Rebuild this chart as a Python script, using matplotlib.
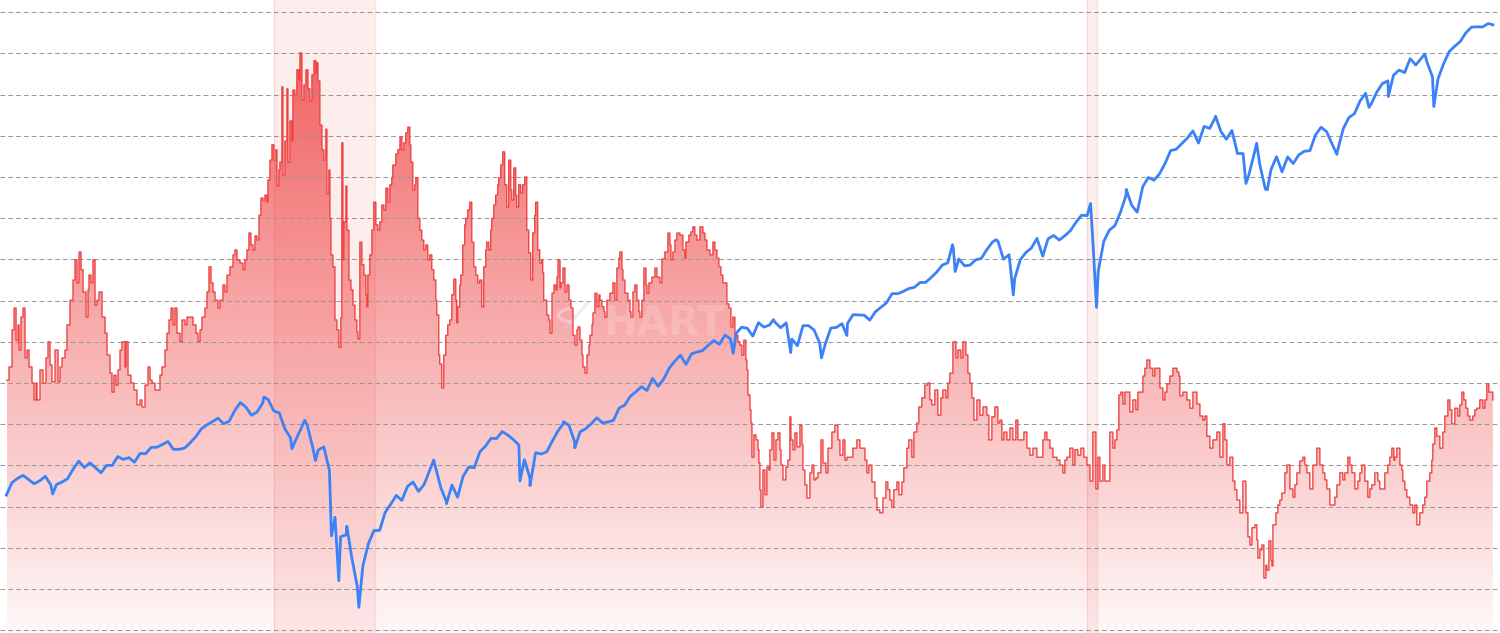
import numpy as np
import matplotlib
matplotlib.use("Agg")
import matplotlib.pyplot as plt
from matplotlib.patches import Circle

# ---------------- data ----------------
# S&P 500 month-end closes, starting Nov 2003
spx_first_month = (2003, 11)
spx_close = [
    1058.20, 1111.92,
    1131.13, 1144.94, 1126.21, 1107.30, 1120.68, 1140.84, 1101.72, 1104.24, 1114.58, 1130.20, 1173.82, 1211.92,
    1181.27, 1203.60, 1180.59, 1156.85, 1191.50, 1191.33, 1234.18, 1220.33, 1228.81, 1207.01, 1249.48, 1248.29,
    1280.08, 1280.66, 1294.83, 1310.61, 1270.09, 1270.20, 1276.66, 1303.82, 1335.85, 1377.94, 1400.63, 1418.30,
    1438.24, 1406.82, 1420.86, 1482.37, 1530.62, 1503.35, 1455.27, 1473.99, 1526.75, 1549.38, 1481.14, 1468.36,
    1378.55, 1330.63, 1322.70, 1385.59, 1400.38, 1280.00, 1267.38, 1282.83, 1166.36, 968.75, 896.24, 903.25,
    825.88, 735.09, 797.87, 872.81, 919.14, 919.32, 987.48, 1020.62, 1057.08, 1036.19, 1095.63, 1115.10,
    1073.87, 1104.49, 1169.43, 1186.69, 1089.41, 1030.71, 1101.60, 1049.33, 1141.20, 1183.26, 1180.55, 1257.64,
    1286.12, 1327.22, 1325.83, 1363.61, 1345.20, 1320.64, 1292.28, 1218.89, 1131.42, 1253.30, 1246.96, 1257.60,
    1312.41, 1365.68, 1408.47, 1397.91, 1310.33, 1362.16, 1379.32, 1406.58, 1440.67, 1412.16, 1416.18, 1426.19,
    1498.11, 1514.68, 1569.19, 1597.57, 1630.74, 1606.28, 1685.73, 1632.97, 1681.55, 1756.54, 1805.81, 1848.36,
    1782.59, 1859.45, 1872.34, 1883.95, 1923.57, 1960.23, 1930.67, 2003.37, 1972.29, 2018.05, 2067.56, 2058.90,
    1994.99, 2104.50, 2067.89, 2085.51, 2107.39, 2063.11, 2103.84, 1972.18, 1920.03, 2079.36, 2080.41, 2043.94,
    1940.24, 1932.23, 2059.74, 2065.30, 2096.95, 2098.86, 2173.60, 2170.95, 2168.27, 2126.15, 2198.81, 2238.83,
    2278.87, 2363.64, 2362.72, 2384.20, 2411.80, 2423.41, 2470.30, 2471.65, 2519.36, 2575.26, 2647.58, 2673.61,
    2823.81, 2713.83, 2640.87, 2648.05, 2705.27, 2718.37, 2816.29, 2901.52, 2913.98, 2711.74, 2760.17, 2506.85,
    2704.10, 2784.49, 2834.40, 2945.83, 2752.06, 2941.76, 2980.38, 2926.46, 2976.74, 3037.56, 3140.98, 3230.78,
    3225.52, 2954.22, 2584.59, 2912.43, 3044.31, 3100.29, 3271.12, 3500.31, 3363.00, 3269.96, 3621.63, 3756.07,
    3714.24, 3811.15, 3972.89, 4181.17, 4204.11, 4297.50, 4395.26, 4522.68, 4307.54, 4605.38, 4567.00, 4766.18,
    4515.55, 4373.94, 4530.41, 4131.93, 4132.15, 3785.38, 4130.29, 3955.00, 3585.62, 3871.98, 4080.11, 3839.50,
    4076.60, 3970.15, 4109.31, 4169.48, 4179.83, 4450.38, 4588.96, 4507.66, 4288.05, 4193.80, 4567.80, 4769.83,
    4845.65, 5096.27, 5254.35, 5035.69, 5277.51, 5460.48, 5522.30, 5648.40, 5762.48, 5705.45, 6032.38, 5881.63,
    6040.53, 5954.50, 5611.85, 5569.06, 5911.69, 6204.95, 6339.39, 6460.26, 6688.46, 6840.20, 6849.09, 6845.50,
    6939.03,
]
# intra-month highs / lows (decimal year, level)
spx_extra_t = [2004.61, 2007.77, 2008.19, 2008.38, 2008.54, 2008.78, 2008.89, 2009.01, 2009.19,
               2010.31, 2010.50, 2011.60, 2011.75, 2012.25, 2012.42, 2014.79, 2015.39,
               2015.65, 2016.11, 2016.49, 2018.07, 2018.11, 2018.72, 2018.98, 2019.42,
               2020.135, 2020.225, 2020.67, 2022.005, 2022.46, 2022.62, 2022.78, 2023.82,
               2024.30, 2024.59, 2025.135, 2025.27, 2026.153]
spx_extra_v = [1063.23, 1565.15, 1273.37, 1426.63, 1214.91, 899.22, 752.44, 934.70, 676.53,
               1217.28, 1022.58, 1119.46, 1099.23, 1419.04, 1278.04, 1862.49, 2130.82,
               1867.61, 1829.08, 2000.54, 2872.87, 2581.00, 2930.75, 2351.10, 2744.45,
               3386.15, 2237.40, 3580.84, 4796.56, 3666.77, 4305.20, 3577.03, 4117.37,
               4967.23, 5186.33, 6144.15, 4982.77, 6905.00]

# red area series (decimal year, level)
red_t = [
 2003.927, 2003.957, 2004.002, 2004.032, 2004.062, 2004.092, 2004.107, 2004.136, 2004.166, 2004.196,
 2004.226, 2004.256, 2004.301, 2004.331, 2004.361, 2004.376, 2004.420, 2004.465, 2004.510, 2004.540,
 2004.570, 2004.600, 2004.645, 2004.690, 2004.720, 2004.750, 2004.794, 2004.824, 2004.869, 2004.914,
 2004.944, 2004.974, 2005.004, 2005.034, 2005.064, 2005.109, 2005.139, 2005.153, 2005.183, 2005.213,
 2005.243, 2005.273, 2005.303, 2005.348, 2005.393, 2005.423, 2005.467, 2005.497, 2005.527, 2005.557,
 2005.587, 2005.617, 2005.647, 2005.692, 2005.707, 2005.737, 2005.781, 2005.826, 2005.871, 2005.916,
 2005.946, 2005.991, 2006.036, 2006.066, 2006.096, 2006.140, 2006.185, 2006.215, 2006.245, 2006.290,
 2006.320, 2006.350, 2006.380, 2006.410, 2006.439, 2006.469, 2006.514, 2006.544, 2006.589, 2006.619,
 2006.664, 2006.709, 2006.754, 2006.784, 2006.814, 2006.843, 2006.888, 2006.918, 2006.948, 2006.978,
 2007.008, 2007.038, 2007.083, 2007.113, 2007.157, 2007.187, 2007.217, 2007.262, 2007.307, 2007.337,
 2007.367, 2007.412, 2007.457, 2007.486, 2007.516, 2007.546,
 2007.576, 2007.606, 2007.636, 2007.666, 2007.696, 2007.725, 2007.755, 2007.785, 2007.815, 2007.830,
 2007.860, 2007.890, 2007.920, 2007.950, 2007.965, 2007.994, 2008.009, 2008.039, 2008.054, 2008.084,
 2008.114, 2008.129, 2008.159, 2008.189, 2008.204, 2008.233, 2008.263, 2008.293, 2008.309, 2008.338,
 2008.368, 2008.398, 2008.428, 2008.458, 2008.488, 2008.518, 2008.548, 2008.563, 2008.578, 2008.607,
 2008.637, 2008.667, 2008.697, 2008.712, 2008.742, 2008.757, 2008.772, 2008.802, 2008.832, 2008.861,
 2008.891, 2008.921, 2008.936, 2008.951, 2008.966, 2008.996, 2009.011, 2009.041, 2009.071, 2009.101,
 2009.131, 2009.160, 2009.175, 2009.205, 2009.235, 2009.265, 2009.295, 2009.310, 2009.325, 2009.355,
 2009.385, 2009.414, 2009.444, 2009.474, 2009.504, 2009.534, 2009.564, 2009.594, 2009.624, 2009.654,
 2009.683, 2009.698, 2009.743, 2009.773, 2009.805, 2009.833, 2009.863, 2009.892, 2009.922, 2009.952,
 2009.967, 2009.997, 2010.027, 2010.042, 2010.072, 2010.102, 2010.131, 2010.161, 2010.191, 2010.221,
 2010.251, 2010.281, 2010.311, 2010.341, 2010.356, 2010.385, 2010.400, 2010.430, 2010.460, 2010.490,
 2010.520, 2010.550, 2010.580, 2010.610, 2010.640, 2010.654, 2010.669, 2010.699, 2010.714, 2010.744,
 2010.774, 2010.789, 2010.819, 2010.849, 2010.879, 2010.909, 2010.939, 2010.968, 2010.998, 2011.028,
 2011.058, 2011.088, 2011.103, 2011.133, 2011.163, 2011.178, 2011.208, 2011.237, 2011.267, 2011.282,
 2011.312, 2011.342, 2011.372, 2011.402, 2011.432, 2011.462, 2011.477, 2011.507, 2011.536, 2011.551,
 2011.581, 2011.611, 2011.641, 2011.671, 2011.701, 2011.731, 2011.761, 2011.791, 2011.820, 2011.835,
 2011.865, 2011.895, 2011.925, 2011.940, 2011.955, 2011.985, 2012.000, 2012.030, 2012.049, 2012.079,
 2012.109, 2012.139, 2012.154, 2012.169, 2012.199, 2012.214, 2012.243, 2012.273, 2012.303, 2012.333,
 2012.363, 2012.393, 2012.423, 2012.453, 2012.468, 2012.498, 2012.527, 2012.542, 2012.572, 2012.602,
 2012.632, 2012.647, 2012.677, 2012.692, 2012.721, 2012.751, 2012.781, 2012.796, 2012.826, 2012.856,
 2012.871, 2012.901, 2012.946, 2012.991, 2013.021, 2013.050, 2013.080, 2013.095, 2013.125, 2013.140,
 2013.170, 2013.215, 2013.245, 2013.260, 2013.290, 2013.319, 2013.349, 2013.379, 2013.394, 2013.424,
 2013.454, 2013.484, 2013.499, 2013.529, 2013.574, 2013.619, 2013.649, 2013.693, 2013.723, 2013.768,
 2013.813, 2013.843, 2013.858, 2013.888, 2013.918, 2013.947, 2013.992, 2014.037, 2014.067, 2014.082,
 2014.127, 2014.157, 2014.186, 2014.216, 2014.246, 2014.292, 2014.336, 2014.366, 2014.396, 2014.441,
 2014.486, 2014.516, 2014.546, 2014.575, 2014.605, 2014.635, 2014.665, 2014.695, 2014.725, 2014.755,
 2014.785, 2014.815, 2014.860, 2014.890, 2014.919, 2014.949, 2014.979, 2014.994, 2015.009, 2015.040,
 2015.055, 2015.070, 2015.100, 2015.130, 2015.160, 2015.174, 2015.189, 2015.204, 2015.234, 2015.264,
 2015.294, 2015.324, 2015.339, 2015.369, 2015.399, 2015.429, 2015.459, 2015.489, 2015.504, 2015.534,
 2015.578, 2015.608, 2015.638, 2015.653, 2015.683, 2015.713, 2015.743, 2015.788, 2015.818, 2015.833,
 2015.862, 2015.892, 2015.937, 2015.967, 2015.997, 2016.027, 2016.057, 2016.102, 2016.132, 2016.177,
 2016.207, 2016.266, 2016.311, 2016.356, 2016.386, 2016.431, 2016.461, 2016.491, 2016.536, 2016.580,
 2016.640, 2016.685, 2016.730, 2016.760, 2016.789, 2016.819, 2016.864, 2016.909, 2016.939, 2016.984,
 2017.029, 2017.073, 2017.103, 2017.133, 2017.163, 2017.193, 2017.238, 2017.268, 2017.313, 2017.342,
 2017.387, 2017.417, 2017.462, 2017.492, 2017.537, 2017.567, 2017.611, 2017.656, 2017.701, 2017.731,
 2017.761, 2017.806, 2017.851, 2017.896, 2017.926, 2017.971, 2018.001, 2018.031, 2018.076, 2018.121,
 2018.151, 2018.196, 2018.226, 2018.270, 2018.300, 2018.330, 2018.360, 2018.390, 2018.435, 2018.480,
 2018.525, 2018.584, 2018.614, 2018.659, 2018.704, 2018.749,
 2018.779, 2018.809, 2018.839, 2018.884, 2018.929, 2018.973, 2019.018, 2019.048, 2019.093, 2019.138,
 2019.183, 2019.228, 2019.273, 2019.332, 2019.377, 2019.422, 2019.452, 2019.482, 2019.527, 2019.572,
 2019.631, 2019.676, 2019.721, 2019.751, 2019.781, 2019.826, 2019.871, 2019.901, 2019.945, 2019.990,
 2020.035, 2020.080, 2020.125, 2020.170, 2020.215, 2020.245, 2020.275, 2020.320, 2020.350, 2020.380,
 2020.424, 2020.469, 2020.499, 2020.529, 2020.559, 2020.589, 2020.619, 2020.649, 2020.678, 2020.723,
 2020.768, 2020.813, 2020.843, 2020.873, 2020.918, 2020.948, 2020.978, 2021.023, 2021.067, 2021.097,
 2021.127, 2021.172, 2021.217, 2021.247, 2021.277, 2021.322, 2021.367, 2021.427, 2021.456, 2021.471,
 2021.516, 2021.576, 2021.621, 2021.666, 2021.726, 2021.771, 2021.815, 2021.845, 2021.875, 2021.920,
 2021.965, 2022.025, 2022.070, 2022.115, 2022.145, 2022.174, 2022.219, 2022.264, 2022.294, 2022.324,
 2022.369, 2022.414, 2022.459, 2022.489,
 2022.519, 2022.549, 2022.594, 2022.623, 2022.638, 2022.668, 2022.698, 2022.728, 2022.758, 2022.773,
 2022.803, 2022.833, 2022.848, 2022.863, 2022.908, 2022.938, 2022.967, 2022.997, 2023.042, 2023.072,
 2023.117, 2023.162, 2023.192, 2023.222, 2023.266, 2023.311, 2023.341, 2023.371, 2023.416, 2023.461,
 2023.521, 2023.565, 2023.610, 2023.640, 2023.670, 2023.715, 2023.745, 2023.790, 2023.820, 2023.864,
 2023.909, 2023.939, 2023.984, 2024.014, 2024.044, 2024.089, 2024.134, 2024.163, 2024.193, 2024.238,
 2024.283, 2024.313, 2024.343, 2024.388, 2024.433, 2024.462, 2024.492, 2024.537, 2024.582, 2024.612,
 2024.642, 2024.672, 2024.687, 2024.717, 2024.762, 2024.791, 2024.806, 2024.836, 2024.866, 2024.911,
 2024.956, 2024.986, 2025.016, 2025.060, 2025.105, 2025.135, 2025.165, 2025.210, 2025.240, 2025.255,
 2025.285, 2025.315, 2025.360, 2025.405, 2025.435, 2025.480, 2025.510, 2025.539, 2025.584, 2025.629,
 2025.659, 2025.689, 2025.719, 2025.749, 2025.779, 2025.809, 2025.853, 2025.883, 2025.913, 2025.958,
 2026.003, 2026.033, 2026.063, 2026.093, 2026.108, 2026.153,
]
red_v = [
 6.07, 6.39, 7.29, 7.82, 7.04, 7.41, 6.80, 7.60, 7.82, 6.61,
 6.80, 6.39, 6.00, 5.59, 6.00, 5.59, 6.32, 6.00, 6.61, 7.00,
 6.44, 6.03, 6.80, 6.03, 6.39, 6.61, 6.80, 7.41, 8.01, 8.50,
 8.99, 8.43, 9.18, 8.75, 8.21, 7.60, 8.26, 8.62, 8.43, 8.99,
 7.89, 8.01, 8.21, 7.60, 7.21, 6.68, 6.24, 5.78, 6.19, 5.95,
 6.32, 6.80, 7.00, 6.39, 7.00, 6.19, 6.00, 5.83, 5.47, 5.59,
 5.42, 5.95, 6.39, 6.07, 6.00, 5.83, 5.83, 6.19, 6.39, 6.80,
 7.21, 7.53, 7.82, 7.41, 7.82, 7.21, 7.00, 7.53, 7.41, 7.60,
 7.60, 7.41, 7.21, 7.00, 7.29, 7.60, 7.82, 8.21, 8.82, 8.43,
 8.21, 8.01, 7.82, 8.01, 8.38, 8.21, 8.62, 8.82, 9.11, 9.23,
 8.99, 8.91, 8.75, 8.99, 9.23, 9.64,
 9.35, 9.23, 9.57, 9.47, 10.07, 10.49, 10.44, 10.56, 10.39, 10.93,
 11.41, 11.78, 11.41, 11.66, 10.78, 11.17, 11.36, 13.19, 11.05, 11.87,
 13.14, 11.36, 12.36, 11.87, 13.11, 12.99, 13.60, 13.36, 14.01, 12.87,
 13.23, 13.60, 13.14, 12.85, 13.48, 13.82, 13.52, 13.77, 13.33, 12.26,
 11.66, 11.41, 12.16, 10.59, 11.17, 10.00, 9.11, 8.82, 7.53, 7.29,
 6.87, 7.58, 11.83, 8.99, 9.91, 10.78, 9.71, 8.50, 8.26, 7.89,
 7.53, 7.24, 7.07, 9.42, 8.87, 8.62, 8.14, 7.85, 8.62, 9.11,
 9.71, 10.39, 9.84, 9.71, 9.91, 10.32, 10.20, 10.73, 10.39, 10.81,
 10.98, 11.29, 11.56, 11.66, 11.97, 11.66, 11.83, 12.07, 12.21, 11.78,
 11.36, 10.68, 10.81, 10.98, 10.00, 9.71, 9.47, 9.23, 9.35, 8.99,
 9.11, 8.75, 8.50, 8.01, 7.65, 6.68, 6.46, 5.88, 6.68, 7.16,
 7.41, 7.53, 8.14, 8.52, 8.01, 7.46, 7.85, 8.38, 8.62, 9.35,
 9.84, 10.00, 10.20, 10.39, 9.42, 8.82, 8.62, 8.43, 8.50, 7.85,
 8.82, 9.23, 9.42, 9.23, 9.71, 10.00, 10.32, 10.56, 10.81, 10.98,
 11.29, 11.61, 10.81, 10.27, 11.41, 10.68, 10.44, 11.22, 10.56, 10.27,
 10.81, 10.61, 10.81, 11.00, 9.71, 9.16, 8.50, 9.64, 10.07, 10.39,
 9.23, 8.91, 8.99, 8.67, 8.01, 8.01, 7.65, 7.53, 7.21, 8.18,
 8.38, 8.26, 8.57, 8.99, 8.31, 8.43, 8.79, 8.21, 8.38, 8.01,
 7.82, 7.16, 6.92, 7.29, 7.36, 7.04, 6.68, 6.39, 6.24, 6.68,
 6.92, 7.16, 7.41, 7.70, 8.18, 7.85, 8.14, 8.01, 7.85, 7.73,
 7.60, 8.01, 8.18, 8.43, 8.01, 8.79, 9.03, 9.18, 8.75, 8.50,
 8.18, 8.01, 7.73, 7.60, 8.21, 8.38, 8.01, 7.73, 7.60, 8.01,
 8.79, 8.38, 8.18, 8.43, 8.57, 8.79, 8.57, 8.43, 9.01, 9.18,
 9.64, 9.35, 8.99, 9.18, 9.47, 9.64, 9.59, 9.23, 9.03, 9.42,
 9.59, 9.67, 9.79, 9.59, 9.47, 9.79, 9.64, 9.47, 9.23, 9.11,
 9.42, 9.23, 9.03, 8.82, 8.62, 8.43, 8.43, 7.92, 7.82, 7.36,
 7.60, 7.16, 7.00, 6.92, 6.68, 7.04, 6.56, 6.32, 5.71, 5.35,
 5.03, 4.20, 4.74, 4.62, 4.38, 4.06, 3.41, 2.99, 3.89, 3.29,
 3.96, 3.89, 4.38, 4.79, 4.13, 4.62, 4.79, 4.38, 4.01, 3.65,
 3.96, 4.13, 5.18, 4.62, 4.38, 4.79, 4.45, 4.98, 4.50, 3.89,
 3.53, 3.21, 3.82, 4.01, 3.65, 3.70, 3.82, 4.62, 4.06, 3.82,
 4.42, 4.81, 4.98, 4.62, 4.25, 4.62, 4.13, 4.20, 4.20, 4.42,
 4.62, 4.42, 4.42, 4.13, 3.82, 4.01, 3.60, 3.21, 2.92, 2.85,
 3.21, 3.60, 3.41, 3.16, 2.99, 3.41, 3.60, 3.29, 3.60, 3.94,
 4.42, 4.62, 4.20, 4.81, 5.03, 5.42, 5.64, 5.95, 6.00, 5.59,
 5.47, 5.83, 5.22, 5.64, 5.83, 5.64, 6.00, 6.24, 7.00, 6.61,
 6.80, 6.61, 7.00, 6.68, 6.24, 6.00, 5.64, 5.10, 5.59, 5.22,
 5.42, 5.22, 4.62, 5.18, 5.42, 5.03,
 5.10, 4.62, 4.81, 4.62, 4.91, 4.62, 5.10, 4.62, 4.62, 4.81,
 4.42, 4.25, 4.42, 4.20, 4.20, 4.62, 4.81, 4.62, 4.42, 4.20,
 4.13, 4.01, 3.82, 4.13, 4.20, 4.42, 4.01, 4.38, 4.25, 4.42,
 4.20, 4.01, 3.62, 4.81, 3.43, 4.20, 3.62, 4.01, 3.62, 3.62,
 4.81, 4.42, 4.62, 4.86, 5.71, 5.78, 5.49, 5.78, 5.78, 5.30,
 5.59, 5.35, 5.78, 5.78, 6.17, 6.36, 6.56, 6.36, 6.17, 6.36,
 6.36, 5.88, 5.59, 5.78, 5.98, 6.17, 6.36, 6.27, 6.17, 5.69,
 5.78, 5.59, 5.39, 5.78, 5.49, 5.20, 5.10, 5.20, 4.71, 4.42,
 4.62, 4.81, 4.20, 5.01, 4.62, 4.01, 4.20, 3.62, 3.41, 3.16,
 2.85, 3.62, 2.85, 2.27,
 2.07, 2.49, 2.56, 2.19, 1.75, 1.95, 2.07, 1.27, 1.58, 1.46,
 2.17, 1.70, 1.56, 2.56, 2.85, 3.04, 3.16, 3.33, 3.82, 4.01,
 3.43, 3.23, 3.53, 3.82, 4.11, 4.20, 4.01, 3.82, 3.43, 4.01,
 4.42, 4.01, 3.82, 3.65, 3.43, 3.04, 3.04, 3.23, 3.53, 3.82,
 3.65, 3.82, 4.20, 4.01, 3.82, 3.43, 3.62, 3.82, 4.01, 3.62,
 3.23, 3.43, 3.53, 3.82, 3.62, 3.43, 3.43, 3.82, 4.01, 4.20,
 4.42, 4.13, 4.20, 4.42, 4.01, 3.89, 3.62, 3.41, 3.23, 3.04,
 2.85, 3.04, 2.56, 2.85, 3.04, 3.23, 3.62, 3.82, 4.13, 4.52,
 4.91, 4.71, 4.42, 4.81, 5.20, 5.59, 5.35, 5.01, 5.39, 5.20,
 5.47, 5.78, 5.59, 5.39, 5.20, 5.10, 5.20, 5.35, 5.39, 5.59,
 5.39, 5.59, 5.98, 5.78, 5.78, 5.59,
]

# recession bands (decimal year start, end)
recession_start = [2007.917, 2020.083]
recession_end = [2009.430, 2020.230]

# ---------------- styling constants ----------------
RED = "#EF4444"
BLUE = "#3B82F6"
X_MIN, X_MAX = 2003.822, 2026.26
RED_MIN, RED_MAX = -0.0655, 15.295
SPX_MIN, SPX_MAX = 610.7, 7622.0

# ---------------- build series ----------------
n = len(spx_close)
y0, m0 = spx_first_month
spx_t = [y0 + (m0 + k) / 12.0 for k in range(n)]
t_all = np.array(spx_t + spx_extra_t)
v_all = np.array(spx_close + spx_extra_v)
order = np.argsort(t_all, kind="stable")
t_all, v_all = t_all[order], v_all[order]

rt = np.array(red_t)
rv = np.array(red_v)

# ---------------- figure ----------------
fig = plt.figure(figsize=(15, 6.33), dpi=100)
ax = fig.add_axes([0, 0, 1, 1])
ax.set_xlim(X_MIN, X_MAX)
ax.set_ylim(RED_MIN, RED_MAX)
for s in ax.spines.values():
    s.set_visible(False)
ax.set_xticks([])
ax.set_yticks([])

# gridlines
for g in range(16):
    ax.axhline(g, color="#9a9a9a", linewidth=0.75, linestyle=(0, (4.5, 3.0)), zorder=1.5)

# gradient area fill for red series
poly = ax.fill_between(rt, rv, RED_MIN, step="post", facecolor="none", edgecolor="none")
grad = np.zeros((256, 1, 4))
rgb = matplotlib.colors.to_rgb(RED)
grad[:, 0, 0], grad[:, 0, 1], grad[:, 0, 2] = rgb
grad[:, 0, 3] = np.linspace(0.88, 0.04, 256)
im = ax.imshow(grad, extent=(X_MIN, X_MAX, RED_MIN, RED_MAX), origin="upper",
               aspect="auto", interpolation="bilinear", zorder=1)
im.set_clip_path(poly.get_paths()[0], transform=ax.transData)
ax.set_xlim(X_MIN, X_MAX)
ax.set_ylim(RED_MIN, RED_MAX)

# recession bands
for a, b in zip(recession_start, recession_end):
    ax.axvspan(a, b, facecolor=RED, alpha=0.09, edgecolor="none", zorder=1.8)
    ax.axvline(a, color=RED, alpha=0.15, linewidth=0.9, zorder=1.8)
    ax.axvline(b, color=RED, alpha=0.15, linewidth=0.9, zorder=1.8)

# watermark
ax.add_patch(Circle((0.384, 0.502), 0.0115, transform=ax.transAxes, facecolor="none",
                    edgecolor="white", alpha=0.3, linewidth=2.5, zorder=1.9))
ax.plot([0.377, 0.392], [0.482, 0.522], transform=ax.transAxes, color="#d8d0f0",
        alpha=0.45, linewidth=2.0, zorder=1.9)
ax.text(0.402, 0.488, "HART", transform=ax.transAxes, fontsize=29, fontweight="bold",
        color="white", alpha=0.17, ha="left", va="center", zorder=1.9,
        family="DejaVu Sans")

# red line
ax.plot(rt, rv, color=RED, linewidth=1.0, drawstyle="steps-post", zorder=2)

# blue line on log twin axis
ax2 = ax.twinx()
ax2.set_yscale("log")
ax2.set_ylim(SPX_MIN, SPX_MAX)
ax2.set_xlim(X_MIN, X_MAX)
for s in ax2.spines.values():
    s.set_visible(False)
ax2.set_yticks([])
ax2.minorticks_off()
ax2.tick_params(which="both", length=0, labelright=False)
ax2.plot(t_all, v_all, color=BLUE, linewidth=2.0, solid_joinstyle="round")

fig.savefig("out.png", dpi=100)
